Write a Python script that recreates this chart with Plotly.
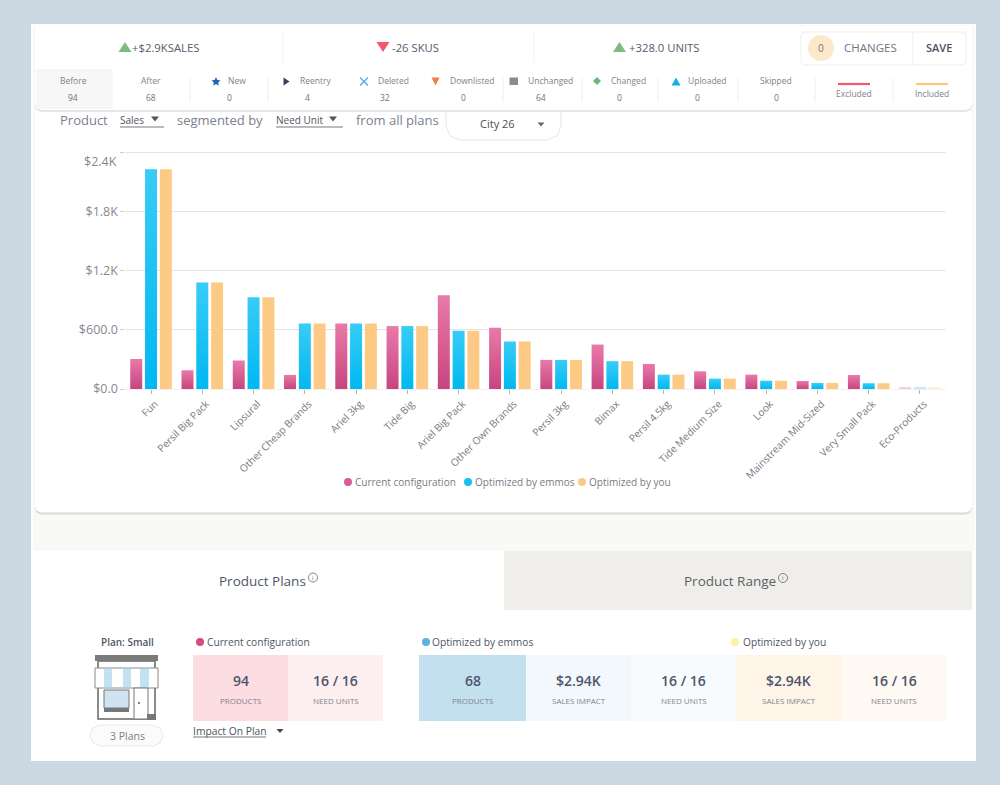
import plotly.graph_objects as go

W, H = 1000, 785

categories = ["Fun", "Persil Big Pack", "Lipsural", "Other Cheap Brands", "Ariel 3kg", "Tide Big",
              "Ariel Big Pack", "Other Own Brands", "Persil 3kg", "Bimax", "Persil 4.5kg",
              "Tide Medium Size", "Look", "Mainstream Mid-Sized", "Very Small Pack", "Eco-Products"]
current_config = [306, 190, 289, 143, 667, 640, 953, 623, 296, 452, 255, 180, 146, 82, 143, 14]
optimized_emmos = [2235, 1082, 932, 667, 667, 640, 592, 483, 296, 283, 146, 105, 85, 61, 58, 14]
optimized_you = [2235, 1082, 932, 667, 667, 640, 592, 483, 296, 283, 146, 105, 85, 61, 58, 14]
bar_opacity = [1] * 15 + [0.3]
y_ticks = [0, 600, 1200, 1800, 2400]
y_labels = ["$0.0", "$600.0", "$1.2K", "$1.8K", ""]

PINK, BLUE, ORANGE = "#d95d93", "#17bef2", "#fdca85"
INK, SOFT = "#4d566b", "#80848c"
FONT = "Open Sans"

shapes, notes = [], []


def px(x):
    return x / W


def py(y):
    return 1 - y / H


def rect(x0, y0, x1, y1, fill, line=None, lw=1):
    shapes.append(dict(type="rect", xref="paper", yref="paper", x0=px(x0), x1=px(x1), y0=py(y0), y1=py(y1),
                       fillcolor=fill, line=dict(color=line or fill, width=lw if line else 0), layer="below"))


def path(points, fill=None, line=None, lw=1, close=True):
    # Paper-space path built from pixel points: shapes use fractions of the figure.
    d = "M " + " L ".join(f"{px(x):.5f},{py(y):.5f}" for x, y in points) + (" Z" if close else "")
    shapes.append(dict(type="path", xref="paper", yref="paper", path=d, fillcolor=fill or "rgba(0,0,0,0)",
                       line=dict(color=line or "rgba(0,0,0,0)", width=lw), layer="below"))


def rrect(x0, y0, x1, y1, r, fill, line=None, lw=1):
    a = 0.293 * r
    pts = [(x0 + r, y0), (x1 - r, y0), (x1 - a, y0 + a), (x1, y0 + r), (x1, y1 - r), (x1 - a, y1 - a), (x1 - r, y1),
           (x0 + r, y1), (x0 + a, y1 - a), (x0, y1 - r), (x0, y0 + r), (x0 + a, y0 + a)]
    path(pts, fill, line, lw)


def hline(x0, x1, y, color, lw=1):
    path([(x0, y), (x1, y)], None, color, lw, close=False)


def vline(x, y0, y1, color, lw=1):
    path([(x, y0), (x, y1)], None, color, lw, close=False)


def dot(x, y, r, fill):
    shapes.append(dict(type="circle", xref="paper", yref="paper", x0=px(x - r), x1=px(x + r), y0=py(y - r), y1=py(y + r),
                       fillcolor=fill, line=dict(width=0), layer="below"))


def ring(x, y, r, color):
    shapes.append(dict(type="circle", xref="paper", yref="paper", x0=px(x - r), x1=px(x + r), y0=py(y - r), y1=py(y + r),
                       fillcolor="rgba(0,0,0,0)", line=dict(width=0.8, color=color), layer="below"))


def up(x, y, w, h, fill):
    path([(x - w / 2, y + h / 2), (x + w / 2, y + h / 2), (x, y - h / 2)], fill)


def down(x, y, w, h, fill):
    path([(x - w / 2, y - h / 2), (x + w / 2, y - h / 2), (x, y + h / 2)], fill)


def text(x, y, s, size=10, color=SOFT, anchor="center", weight=400):
    notes.append(dict(xref="paper", yref="paper", x=px(x), y=py(y), text=s, showarrow=False, xanchor=anchor,
                      yanchor="middle", font=dict(size=size, color=color, family=FONT, weight=weight),
                      borderpad=0, borderwidth=0))


# ---------- page frame ----------
rect(31, 24, 976, 761, "#ffffff")
rect(33, 25, 975, 551, "#f9f9f7")
rect(35, 26, 972, 70, "#ffffff")

# chart card with soft shadow
rrect(35, 110, 972, 514.5, 6, "#d9d9d7")
rrect(35, 108, 972, 512.5, 6, "#ffffff")
rect(35, 551, 976, 761, "#ffffff")

# header totals
for x, value, up_arrow, tx in [(125, "+$2.9KSALES", True, 132), (383, "-26 SKUS", False, 392), (619.5, "+328.0 UNITS", True, 629)]:
    (up if up_arrow else down)(x, 47, 13, 10, "#7dbb80" if up_arrow else "#f0596b")
    text(tx, 48, value, 11.3, "#555c6c", "left")
vline(283, 33, 62, "#f3f3f3")
vline(534, 33, 62, "#f3f3f3")

rrect(801, 32, 966, 65, 4, "#ffffff", "#eeeeee")
vline(913, 32, 65, "#eeeeee")
dot(821, 48, 13, "#fde8cc")
text(821, 48, "0", 10, "#777777")
text(870, 48, "CHANGES", 11.5, "#70757f")
text(939, 48, "SAVE", 11, "#4c5261", weight=600)

# filter row (pill sits under the strip)
rrect(446, 96, 561, 140, 14, "#ffffff", "#e6e6e6")
text(497, 124, "City 26", 11, "#4a4f5c")
down(541, 124.5, 7, 4, "#666666")
text(60, 120, "Product", 13, "#7b8190", "left")
text(120, 120, "Sales", 10, "#4f5360", "left")
down(155, 119, 8, 5, "#555555")
hline(120, 164, 127, "#777777")
text(177, 120, "segmented by", 13, "#7b8190", "left")
text(276, 120, "Need Unit", 10, "#4f5360", "left")
down(333, 119, 8, 5, "#555555")
hline(276, 343, 127, "#777777")
text(356, 120, "from all plans", 13, "#7b8190", "left")

# status strip
rrect(35, 69, 972, 112, 6, "#e6e6e4")
rrect(35, 68, 972, 110, 6, "#ffffff")
rect(36, 69, 113, 109, "#f7f7f7")
for x in [190, 268, 503, 582, 658, 738, 815, 893]:
    vline(x, 78, 102, "#eeeeee")
strip_labels = ["Before", "After", "New", "Reentry", "Deleted", "Downlisted", "Unchanged", "Changed", "Uploaded", "Skipped"]
strip_values = ["94", "68", "0", "4", "32", "0", "64", "0", "0", "0"]
strip_label_x = [73, 151, 237, 316, 393, 472, 550, 628, 707, 776]
strip_value_x = [73, 151, 229, 307, 385, 463, 541, 619, 697, 776]
for lab, val, lx, vx in zip(strip_labels, strip_values, strip_label_x, strip_value_x):
    text(lx, 81, lab, 8.5, "#7f8288")
    text(vx, 98, val, 8.5, "#6f7278")
# status glyphs
path([(216, 77), (217.3, 80), (220.5, 80.3), (218.2, 82.5), (219, 85.5), (216, 84), (213, 85.5), (213.8, 82.5), (211.5, 80.3), (214.7, 80)], "#1c66b0")
path([(283.5, 77.5), (289.5, 81.5), (283.5, 85.5)], "#3c4358")
path([(360, 77.5), (368, 85.5)], None, "#57aee6", 1.4, close=False)
path([(368, 77.5), (360, 85.5)], None, "#57aee6", 1.4, close=False)
down(435.5, 81.5, 8, 8, "#f47c45")
rect(509.5, 77.5, 518, 85, "#8b8b8b")
path([(597, 77), (601, 81), (597, 85), (593, 81)], "#68b87d")
up(676, 81.5, 9, 8, "#12b1ea")
hline(838, 870, 84, "#f0596b", 2.2)
text(854, 94, "Excluded", 8.5, "#7f8288")
hline(916, 948, 84, "#fbc677", 2.2)
text(932, 94, "Included", 8.5, "#7f8288")

# tabs
rect(504, 551, 972, 610, "#efeeeb")
text(262, 581, "Product Plans", 13.5, INK)
ring(313, 577.5, 4.5, "#666666")
text(313, 577.5, "i", 6, "#666666")
text(730, 581, "Product Range", 13.5, "#5b5f68")
ring(783, 578, 4.5, "#666666")
text(783, 578, "i", 6, "#666666")

# plan block
text(127, 642, "Plan: Small", 10, "#4f5565", weight=600)
rect(98, 661, 155, 719, "#ffffff", "#666666", 1.5)
rect(95, 655, 158, 661, "#7b7b7b")
rect(95, 668, 158, 688, "#ffffff", "#8a8a8a", 1)
for x0, x1 in [(104, 112), (123, 131), (140, 149)]:
    rect(x0, 669, x1, 687, "#bfe3f2")
rect(104, 690, 129, 708, "#cfe3f0", "#777777", 1)
rect(104, 708, 129, 712, "#777777")
rect(134, 688, 148, 719, "#ffffff", "#777777", 1)
dot(139, 703, 1, "#555555")
rect(147, 714, 156, 720, "#777777")
rrect(90, 725, 163, 746, 10, "#fbfbfb", "#e8e8e8")
text(127, 735.5, "3 Plans", 10.5, "#7a7f88")

# configuration tiles
dot(200, 642, 4, "#d7497f")
text(207, 642, "Current configuration", 10.2, "#4f5565", "left")
dot(426, 642, 4, "#5cb2dd")
text(432, 642, "Optimized by emmos", 10.2, "#4f5565", "left")
dot(735, 642, 4, "#fbf1a8")
text(743, 642, "Optimized by you", 10.2, "#4f5565", "left")

tile_x0 = [193, 288, 419, 526, 631, 736, 841]
tile_x1 = [288, 383, 526, 631, 736, 841, 947]
tile_fill = ["#fcdde2", "#fdeef0", "#c3e0ef", "#f3f8fc", "#f8fbfd", "#fef5e8", "#fef9f3"]
tile_big = ["94", "16 / 16", "68", "$2.94K", "16 / 16", "$2.94K", "16 / 16"]
tile_small = ["PRODUCTS", "NEED UNITS", "PRODUCTS", "SALES IMPACT", "NEED UNITS", "SALES IMPACT", "NEED UNITS"]
for x0, x1, fill, big, small in zip(tile_x0, tile_x1, tile_fill, tile_big, tile_small):
    rect(x0, 655, x1, 721, fill)
    text((x0 + x1) / 2, 680, big, 14, "#4d566b", weight=600)
    text((x0 + x1) / 2, 700, small, 8, "#80848c")
text(193, 731, "Impact On Plan", 10.3, "#4f5360", "left")
hline(193, 266, 737, "#777777")
down(280, 731, 7, 4, "#444444")

# Legend dots beside the legend text, which the library's legends draw
legend_text_x = [355, 475, 589]
legend_colors = [PINK, BLUE, ORANGE]
legend_names = ["Current configuration", "Optimized by emmos", "Optimized by you"]
for x, color in zip(legend_text_x, legend_colors):
    dot(x - 7, 482, 4, color)

# "$2.4K" sits below its gridline in the reference
notes.append(dict(xref="paper", yref="y", x=px(119), y=2400, yshift=-9, text="$2.4K", showarrow=False, xanchor="right",
                  yanchor="middle", font=dict(size=12.5, color="#85888e", family=FONT)))

fig = go.Figure()
for name, values, color in zip(legend_names, [current_config, optimized_emmos, optimized_you], legend_colors):
    fig.add_trace(go.Bar(x=categories, y=values, name=name, showlegend=False,
                         marker=dict(color=color, opacity=bar_opacity, line=dict(width=0))))
legend_ids = ["legend", "legend2", "legend3"]
for name, lid in zip(legend_names, legend_ids):
    fig.add_trace(go.Scatter(x=[None], y=[None], name=name, mode="markers", legend=lid, showlegend=True,
                             marker=dict(color="rgba(0,0,0,0)", size=8, line=dict(width=0))))

legend_layout = {
    lid: dict(x=px(tx - 40), xanchor="left", y=py(482), yanchor="middle", font=dict(size=10, color="#787b82"),
              bgcolor="rgba(0,0,0,0)", itemclick=False, itemdoubleclick=False)
    for lid, tx in zip(legend_ids, legend_text_x)
}

fig.update_layout(
    width=W, height=H, autosize=False, margin=dict(l=0, r=0, t=0, b=0, pad=0),
    paper_bgcolor="#cbd8e1", plot_bgcolor="rgba(0,0,0,0)",
    font=dict(family=FONT, color=SOFT),
    barmode="group", bargap=0.134, bargroupgap=0.19,
    shapes=shapes, annotations=notes,
    xaxis=dict(domain=[px(125.4), px(945.6)], tickangle=-45, tickfont=dict(size=10.2, color="#787b82"),
               ticks="outside", ticklen=4, tickcolor="#b5b5b5", showline=True, linecolor="#f1f1f1",
               showgrid=False, automargin=False, categoryorder="array", categoryarray=categories,
               ticklabelshift=4),
    yaxis=dict(domain=[py(389), py(151)], range=[0, 2420], tickvals=y_ticks, ticktext=y_labels,
               tickfont=dict(size=12.5, color="#85888e"), ticks="outside", ticklen=4, tickcolor="#cccccc",
               gridcolor="#e4e4e4", zeroline=False, automargin=False),
    **legend_layout,
)

# Vertical shading on the pink and blue bars, which the library has no bar option for.
post = """
document.body.style.margin='0';document.body.style.background='#cbd8e1';document.body.style.overflow='hidden';
var svg=document.querySelector('.main-svg');
var ns='http://www.w3.org/2000/svg';
var defs=svg.querySelector('defs')||svg.insertBefore(document.createElementNS(ns,'defs'),svg.firstChild);
[['gradPink','#e97aaa','#c7457f'],['gradBlue','#38ccf6','#00b8f1']].forEach(function(g){
  var lg=document.createElementNS(ns,'linearGradient');lg.id=g[0];
  lg.setAttribute('x1','0');lg.setAttribute('y1','0');lg.setAttribute('x2','0');lg.setAttribute('y2','1');
  [[0,g[1]],[1,g[2]]].forEach(function(s){var st=document.createElementNS(ns,'stop');
    st.setAttribute('offset',s[0]);st.setAttribute('stop-color',s[1]);lg.appendChild(st);});
  defs.appendChild(lg);});
var traces=document.querySelectorAll('.barlayer .trace');
['gradPink','gradBlue'].forEach(function(id,i){
  traces[i].querySelectorAll('path').forEach(function(p){p.style.fill='url(#'+id+')';});});
"""
fig.write_html("out.html", config=dict(displayModeBar=False), post_script=post)
